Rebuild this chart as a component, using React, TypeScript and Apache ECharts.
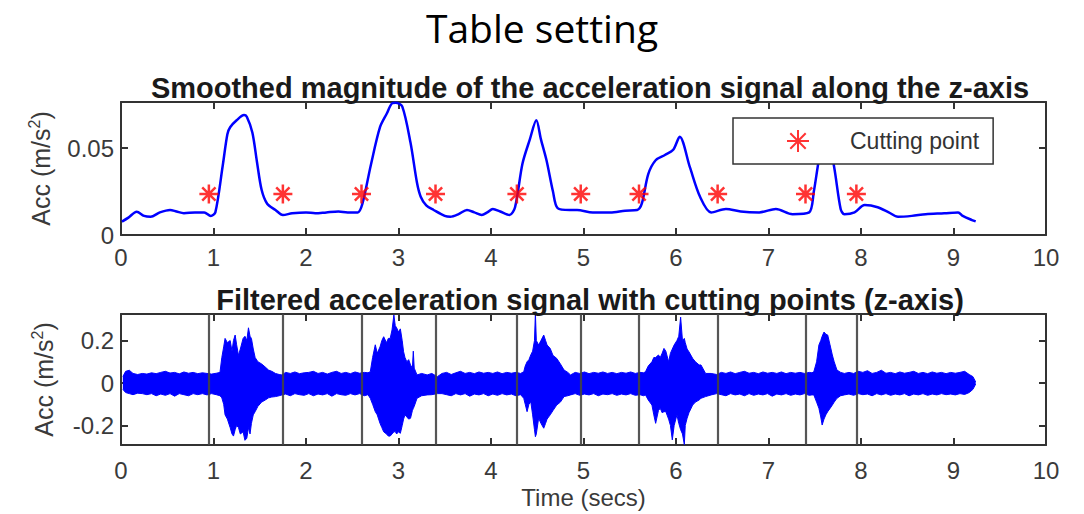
import React, { useEffect, useRef } from "react";
import * as echarts from "echarts";

// ---------- DATA ----------
const xTicks = [0, 1, 2, 3, 4, 5, 6, 7, 8, 9, 10];
const topYTicks = [0, 0.05];
const bottomYTicks = [-0.2, 0, 0.2];

// smoothed magnitude (top plot)
const smoothT = [0.01, 0.08, 0.17, 0.25, 0.32, 0.42, 0.53, 0.6, 0.68, 0.8, 0.9, 0.97, 1.02, 1.1, 1.15, 1.18, 1.25, 1.33, 1.36, 1.42, 1.47, 1.52, 1.58, 1.67, 1.75, 1.85, 2.0, 2.1, 2.22, 2.35, 2.45, 2.56, 2.61, 2.7, 2.8, 2.875, 2.93, 2.97, 3.04, 3.13, 3.2, 3.24, 3.3, 3.38, 3.5, 3.56, 3.65, 3.74, 3.82, 3.9, 3.96, 4.02, 4.1, 4.2, 4.26, 4.34, 4.42, 4.49, 4.54, 4.6, 4.67, 4.72, 4.85, 4.93, 5.1, 5.29, 5.45, 5.58, 5.63, 5.7, 5.78, 5.88, 5.97, 6.04, 6.15, 6.26, 6.38, 6.54, 6.7, 6.9, 7.08, 7.26, 7.44, 7.49, 7.55, 7.62, 7.71, 7.78, 7.82, 7.93, 8.04, 8.18, 8.3, 8.4, 8.55, 8.7, 8.9, 9.05, 9.1, 9.2, 9.24];
const smoothV = [0.0077, 0.010, 0.0134, 0.011, 0.0105, 0.013, 0.0144, 0.0135, 0.0125, 0.013, 0.013, 0.011, 0.013, 0.04, 0.058, 0.062, 0.066, 0.069, 0.068, 0.059, 0.042, 0.026, 0.018, 0.0144, 0.0115, 0.0125, 0.013, 0.0125, 0.013, 0.0135, 0.013, 0.013, 0.018, 0.04, 0.062, 0.070, 0.0757, 0.076, 0.074, 0.053, 0.03, 0.022, 0.017, 0.0144, 0.011, 0.0105, 0.012, 0.0144, 0.013, 0.0115, 0.013, 0.015, 0.0135, 0.0115, 0.016, 0.041, 0.055, 0.066, 0.055, 0.043, 0.025, 0.0155, 0.0144, 0.0144, 0.013, 0.013, 0.014, 0.0144, 0.018, 0.035, 0.043, 0.046, 0.049, 0.0565, 0.039, 0.022, 0.013, 0.015, 0.0135, 0.013, 0.015, 0.012, 0.013, 0.025, 0.045, 0.062, 0.039, 0.015, 0.012, 0.013, 0.0172, 0.016, 0.013, 0.0105, 0.011, 0.012, 0.0125, 0.013, 0.011, 0.0086, 0.0078];

// cutting points
const cutTimes = [0.95, 1.75, 2.6, 3.4, 4.28, 4.97, 5.6, 6.45, 7.4, 7.95];
const cutLevel = 0.0236;

// filtered signal envelope (bottom plot): time, upper and lower extremes
const sigT = [
  0.02, 0.05, 0.09, 0.13, 0.18, 0.23, 0.28, 0.33, 0.38, 0.43, 0.48, 0.53, 0.58, 0.63, 0.68, 0.73, 0.78, 0.83, 0.88, 0.93, 0.98, 1.03, 1.07,
  1.09, 1.11, 1.125, 1.15, 1.18, 1.2, 1.216, 1.234, 1.25, 1.27, 1.29, 1.32, 1.34, 1.36, 1.378, 1.395, 1.41, 1.43, 1.45, 1.48, 1.52, 1.56, 1.595, 1.63, 1.67, 1.71, 1.74,
  1.78, 1.83, 1.88, 1.93, 1.98, 2.03, 2.08, 2.13, 2.18, 2.23, 2.28, 2.33, 2.38, 2.43, 2.48, 2.53, 2.58, 2.63, 2.67,
  2.695, 2.72, 2.749, 2.77, 2.8, 2.82, 2.84, 2.87, 2.89, 2.91, 2.93, 2.95, 2.965, 2.98, 3.0, 3.02, 3.04, 3.055, 3.07, 3.09, 3.11, 3.13, 3.15, 3.16, 3.17, 3.2, 3.25, 3.31, 3.36, 3.42,
  3.47, 3.52, 3.57, 3.62, 3.67, 3.72, 3.77, 3.82, 3.87, 3.92, 3.97, 4.02, 4.07, 4.12, 4.17, 4.22, 4.27, 4.32,
  4.354, 4.37, 4.39, 4.41, 4.43, 4.45, 4.47, 4.48, 4.49, 4.515, 4.54, 4.57, 4.59, 4.606, 4.64, 4.67, 4.71, 4.75, 4.79, 4.83, 4.86,
  4.91, 4.96, 5.01, 5.06, 5.11, 5.16, 5.21, 5.26, 5.31, 5.36, 5.41, 5.46, 5.51, 5.56, 5.61, 5.65,
  5.67, 5.7, 5.74, 5.76, 5.78, 5.81, 5.83, 5.85, 5.87, 5.89, 5.92, 5.94, 5.96, 5.98, 6.01, 6.03, 6.05, 6.07, 6.09, 6.1, 6.12, 6.14, 6.18, 6.21, 6.25, 6.27, 6.32, 6.38, 6.44,
  6.49, 6.54, 6.59, 6.64, 6.69, 6.74, 6.79, 6.84, 6.89, 6.94, 6.99, 7.04, 7.09, 7.14, 7.19, 7.24, 7.29, 7.34, 7.39, 7.44, 7.47,
  7.49, 7.52, 7.545, 7.565, 7.58, 7.6, 7.62, 7.64, 7.665, 7.69, 7.71, 7.74, 7.78, 7.82,
  7.87, 7.92, 7.97, 8.02, 8.07, 8.12, 8.17, 8.22, 8.27, 8.32, 8.37, 8.42, 8.47, 8.52, 8.57, 8.62, 8.67, 8.72, 8.77, 8.82, 8.87, 8.92, 8.97, 9.02, 9.07, 9.12, 9.17, 9.21, 9.24,
];
const sigHi = [
  0.03, 0.055, 0.06, 0.045, 0.04, 0.045, 0.042, 0.048, 0.044, 0.05, 0.055, 0.047, 0.05, 0.043, 0.052, 0.046, 0.05, 0.044, 0.048, 0.045, 0.042, 0.046, 0.05,
  0.12, 0.17, 0.21, 0.19, 0.2, 0.15, 0.2, 0.226, 0.18, 0.13, 0.16, 0.21, 0.22, 0.2, 0.26, 0.22, 0.21, 0.16, 0.12, 0.1, 0.09, 0.075, 0.061, 0.055, 0.045, 0.04, 0.038,
  0.05, 0.045, 0.052, 0.044, 0.048, 0.05, 0.055, 0.045, 0.05, 0.042, 0.05, 0.055, 0.045, 0.05, 0.044, 0.052, 0.046, 0.05, 0.048,
  0.053, 0.12, 0.18, 0.14, 0.17, 0.2, 0.218, 0.19, 0.21, 0.21, 0.25, 0.32, 0.27, 0.26, 0.24, 0.255, 0.2, 0.147, 0.12, 0.1, 0.11, 0.085, 0.07, 0.15, 0.07, 0.038, 0.045, 0.038, 0.045, 0.03,
  0.045, 0.05, 0.04, 0.048, 0.055, 0.045, 0.05, 0.044, 0.052, 0.046, 0.05, 0.045, 0.052, 0.044, 0.05, 0.046, 0.05, 0.045,
  0.053, 0.08, 0.1, 0.11, 0.132, 0.15, 0.2, 0.33, 0.2, 0.179, 0.2, 0.226, 0.2, 0.179, 0.163, 0.13, 0.116, 0.09, 0.061, 0.05, 0.038,
  0.05, 0.045, 0.052, 0.044, 0.05, 0.046, 0.052, 0.045, 0.05, 0.044, 0.05, 0.046, 0.052, 0.045, 0.05, 0.048,
  0.053, 0.08, 0.1, 0.12, 0.12, 0.132, 0.12, 0.14, 0.163, 0.15, 0.1, 0.14, 0.16, 0.179, 0.2, 0.22, 0.31, 0.2, 0.21, 0.19, 0.16, 0.147, 0.116, 0.1, 0.085, 0.085, 0.045, 0.045, 0.04,
  0.05, 0.045, 0.052, 0.044, 0.05, 0.055, 0.046, 0.05, 0.044, 0.052, 0.046, 0.05, 0.045, 0.052, 0.044, 0.05, 0.046, 0.05, 0.045, 0.05, 0.048,
  0.053, 0.1, 0.179, 0.2, 0.22, 0.24, 0.23, 0.226, 0.18, 0.132, 0.1, 0.061, 0.05, 0.045,
  0.05, 0.045, 0.055, 0.05, 0.058, 0.045, 0.05, 0.06, 0.046, 0.05, 0.044, 0.052, 0.046, 0.05, 0.055, 0.045, 0.05, 0.044, 0.052, 0.046, 0.05, 0.044, 0.05, 0.046, 0.05, 0.055, 0.04, 0.03, 0.005,
];
const sigLo = [
  -0.03, -0.045, -0.05, -0.055, -0.048, -0.05, -0.055, -0.05, -0.06, -0.052, -0.058, -0.05, -0.062, -0.05, -0.055, -0.06, -0.05, -0.055, -0.05, -0.056, -0.05, -0.055, -0.06,
  -0.07, -0.1, -0.15, -0.17, -0.21, -0.24, -0.25, -0.22, -0.2, -0.21, -0.24, -0.23, -0.27, -0.26, -0.21, -0.24, -0.19, -0.15, -0.135, -0.11, -0.09, -0.08, -0.07, -0.066, -0.064, -0.06, -0.056,
  -0.052, -0.06, -0.05, -0.055, -0.058, -0.05, -0.06, -0.052, -0.056, -0.05, -0.062, -0.05, -0.055, -0.058, -0.05, -0.056, -0.05, -0.06, -0.055,
  -0.072, -0.1, -0.135, -0.15, -0.19, -0.21, -0.23, -0.24, -0.25, -0.25, -0.24, -0.23, -0.229, -0.24, -0.23, -0.237, -0.2, -0.17, -0.15, -0.16, -0.17, -0.166, -0.13, -0.12, -0.11, -0.072, -0.06, -0.056, -0.055, -0.05,
  -0.05, -0.055, -0.06, -0.05, -0.056, -0.05, -0.062, -0.052, -0.056, -0.05, -0.06, -0.052, -0.058, -0.05, -0.056, -0.052, -0.06, -0.055,
  -0.072, -0.1, -0.135, -0.1, -0.088, -0.15, -0.22, -0.253, -0.24, -0.166, -0.19, -0.213, -0.19, -0.17, -0.15, -0.13, -0.104, -0.09, -0.064, -0.06, -0.056,
  -0.05, -0.058, -0.052, -0.056, -0.05, -0.06, -0.052, -0.055, -0.05, -0.058, -0.052, -0.056, -0.05, -0.058, -0.055, -0.06,
  -0.056, -0.08, -0.104, -0.15, -0.19, -0.13, -0.119, -0.14, -0.135, -0.135, -0.17, -0.2, -0.268, -0.2, -0.15, -0.19, -0.22, -0.24, -0.29, -0.2, -0.166, -0.14, -0.104, -0.09, -0.08, -0.072, -0.064, -0.056, -0.05,
  -0.055, -0.06, -0.05, -0.056, -0.052, -0.06, -0.05, -0.058, -0.052, -0.056, -0.05, -0.062, -0.052, -0.056, -0.05, -0.058, -0.052, -0.056, -0.05, -0.058, -0.056,
  -0.056, -0.09, -0.119, -0.16, -0.198, -0.17, -0.15, -0.135, -0.12, -0.104, -0.09, -0.072, -0.06, -0.056,
  -0.052, -0.058, -0.05, -0.055, -0.052, -0.06, -0.05, -0.056, -0.05, -0.058, -0.052, -0.056, -0.05, -0.06, -0.052, -0.056, -0.05, -0.058, -0.052, -0.056, -0.05, -0.055, -0.052, -0.056, -0.05, -0.054, -0.045, -0.03, -0.005,
];

// ---------- STYLE ----------
const FONT = "'Liberation Sans', Arial, Helvetica, sans-serif";
const FRAME = "#333333";
const TICKCOL = "#3a3a3a";
const BLUE = "#0000ff";
const STAR = "path://M10,0 L10,20 M0,10 L20,10 M3,3 L17,17 M3,17 L17,3";

export default function App() {
  const ref = useRef<HTMLDivElement>(null);

  useEffect(() => {
    if (!ref.current) return;
    const chart = echarts.init(ref.current, undefined, { renderer: "svg" });

    const frameLine = { show: true, onZero: false, lineStyle: { color: FRAME, width: 2 } };
    const tick = { show: true, inside: true, length: 7, lineStyle: { color: FRAME, width: 2 } };
    const label = { color: TICKCOL, fontSize: 24, fontFamily: FONT };
    const yName = {
      name: "Acc (m/s{sup|2})",
      nameLocation: "middle",
      nameGap: 62,
      nameRotate: 90,
      nameTextStyle: {
        color: TICKCOL,
        fontSize: 25,
        fontFamily: FONT,
        lineHeight: 30,
        rich: {
          sup: { fontSize: 16, fontFamily: FONT, color: TICKCOL, verticalAlign: "top", lineHeight: 16 },
        },
      },
    };

    const xBase = (gridIndex: number, position: "bottom" | "top", showLabel: boolean, margin: number) => ({
      type: "value" as const,
      gridIndex,
      position,
      min: 0,
      max: 10,
      interval: 1,
      axisLine: frameLine,
      axisTick: { ...tick, customValues: xTicks },
      axisLabel: { ...label, show: showLabel, margin, customValues: xTicks },
      splitLine: { show: false },
    });

    const option: any = {
      animation: false,
      backgroundColor: "#ffffff",
      title: [
        {
          text: "Table setting",
          left: "center",
          top: 4,
          padding: 0,
          textStyle: { fontFamily: "'Open Sans', 'Noto Sans', sans-serif", fontWeight: "normal", fontSize: 39, lineHeight: 46, color: "#000" },
        },
        {
          text: "Smoothed magnitude of the acceleration signal along the z-axis",
          left: 585,
          textAlign: "center",
          top: 68,
          textStyle: { fontFamily: FONT, fontWeight: "bold", fontSize: 29, color: "#1a1a1a" },
        },
        {
          text: "Filtered acceleration signal with cutting points (z-axis)",
          left: 585,
          textAlign: "center",
          top: 280,
          textStyle: { fontFamily: FONT, fontWeight: "bold", fontSize: 29, color: "#1a1a1a" },
        },
      ],
      legend: {
        data: ["Cutting point"],
        left: 733,
        top: 118,
        orient: "vertical",
        itemWidth: 22,
        itemHeight: 22,
        padding: [11, 14, 11, 53],
        backgroundColor: "#ffffff",
        borderColor: FRAME,
        borderWidth: 1.5,
        borderRadius: 0,
        textStyle: { fontFamily: FONT, fontSize: 23, color: "#333", padding: [0, 0, 0, 36] },
      },
      grid: [
        { left: 121, right: 38, top: 102, height: 133 },
        { left: 121, right: 38, top: 314, height: 131 },
      ],
      xAxis: [
        xBase(0, "bottom", true, 10),
        {
          ...xBase(1, "bottom", true, 13),
          name: "Time (secs)",
          nameLocation: "middle",
          nameGap: 40,
          nameTextStyle: { color: TICKCOL, fontSize: 24, fontFamily: FONT },
        },
        xBase(0, "top", false, 8),
        xBase(1, "top", false, 8),
      ],
      yAxis: [
        {
          type: "value",
          gridIndex: 0,
          position: "left",
          min: 0,
          max: 0.0765,
          interval: 0.05,
          axisLine: frameLine,
          axisTick: { ...tick, customValues: topYTicks },
          axisLabel: { ...label, margin: 7, customValues: topYTicks, formatter: (v: number) => (v === 0 ? "0" : String(v)) },
          splitLine: { show: false },
          ...yName,
        },
        {
          type: "value",
          gridIndex: 1,
          position: "left",
          min: -0.292,
          max: 0.325,
          axisLine: frameLine,
          axisTick: { ...tick, customValues: bottomYTicks },
          axisLabel: { ...label, margin: 7, customValues: bottomYTicks, formatter: (v: number) => (v === 0 ? "0" : String(v)) },
          splitLine: { show: false },
          ...yName,
        },
        {
          type: "value",
          gridIndex: 0,
          position: "right",
          min: 0,
          max: 0.0765,
          interval: 0.05,
          axisLine: frameLine,
          axisTick: { ...tick, customValues: topYTicks },
          axisLabel: { show: false },
          splitLine: { show: false },
        },
        {
          type: "value",
          gridIndex: 1,
          position: "right",
          min: -0.292,
          max: 0.325,
          axisLine: frameLine,
          axisTick: { ...tick, customValues: bottomYTicks },
          axisLabel: { show: false },
          splitLine: { show: false },
        },
      ],
      series: [
        {
          name: "Smoothed",
          type: "line",
          xAxisIndex: 0,
          yAxisIndex: 0,
          data: smoothT.map((t, i) => [t, smoothV[i]]),
          showSymbol: false,
          smooth: 0.3,
          lineStyle: { color: BLUE, width: 2.5 },
          z: 2,
        },
        {
          name: "Cutting point",
          type: "scatter",
          xAxisIndex: 0,
          yAxisIndex: 0,
          data: cutTimes.map((t) => [t, cutLevel]),
          symbol: STAR,
          symbolSize: 19,
          itemStyle: { color: "#ff0000", borderColor: "#ff0000", borderWidth: 2.5 },
          z: 3,
        },
        {
          name: "SignalUpper",
          type: "line",
          xAxisIndex: 1,
          yAxisIndex: 1,
          data: sigT.map((t, i) => [t, sigHi[i]]),
          showSymbol: false,
          lineStyle: { color: BLUE, width: 1 },
          areaStyle: { color: BLUE, opacity: 1 },
          z: 2,
        },
        {
          name: "SignalLower",
          type: "line",
          xAxisIndex: 1,
          yAxisIndex: 1,
          data: sigT.map((t, i) => [t, sigLo[i]]),
          showSymbol: false,
          lineStyle: { color: BLUE, width: 1 },
          areaStyle: { color: BLUE, opacity: 1 },
          z: 2,
          markLine: {
            silent: true,
            symbol: "none",
            label: { show: false },
            lineStyle: { color: "#444444", width: 2.2, type: "solid", opacity: 0.9 },
            data: cutTimes.map((t) => ({ xAxis: t })),
          },
        },
      ],
    };

    chart.setOption(option);
    return () => chart.dispose();
  }, []);

  return (
    <div
      ref={ref}
      style={{ position: "fixed", left: 0, top: 0, width: 1084, height: 514, background: "#fff" }}
    />
  );
}
